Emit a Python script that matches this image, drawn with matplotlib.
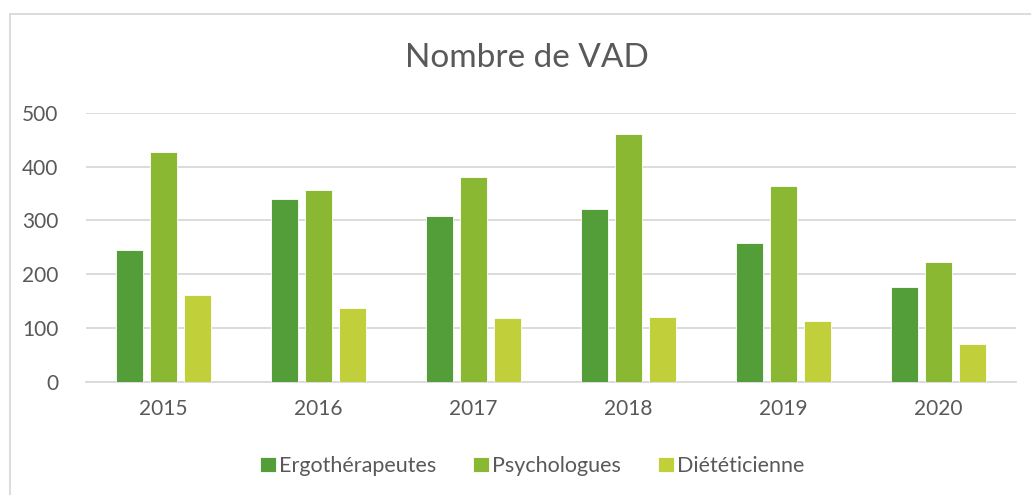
import numpy as np
import matplotlib.pyplot as plt
from matplotlib.patches import Rectangle

plt.rcParams['font.family'] = ['Lato', 'DejaVu Sans']

# Données
annees = ['2015', '2016', '2017', '2018', '2019', '2020']
ergo = [245, 340, 309, 321, 258, 176]
psycho = [427, 356, 380, 460, 364, 222]
dietet = [161, 137, 118, 121, 114, 71]
series = ['Ergothérapeutes', 'Psychologues', 'Diététicienne']
couleurs = ['#549E39', '#8AB833', '#C0CF3A']

gris = '#595959'

fig = plt.figure(figsize=(10.31, 4.95), dpi=100)
ax = fig.add_axes([0.0834, 0.2283, 0.9021, 0.544])

x = np.arange(len(annees))
largeur = 0.175
pas = 0.221
for i, (vals, nom, c) in enumerate(zip([ergo, psycho, dietet], series, couleurs)):
    ax.bar(x + (i - 1) * pas, vals, largeur, color=c, label=nom,
           edgecolor='white', linewidth=0.6, zorder=3)

ax.set_xlim(-0.5, len(annees) - 0.5)
ax.set_ylim(0, 500)
ax.set_yticks(range(0, 501, 100))
ax.set_xticks(x)
ax.set_xticklabels(annees)
ax.yaxis.grid(True, color='#D9D9D9', linewidth=1.3, zorder=0)
for s in ['top', 'right', 'left']:
    ax.spines[s].set_visible(False)
ax.spines['bottom'].set_color('#D9D9D9')
ax.spines['bottom'].set_linewidth(1.3)
ax.tick_params(axis='both', length=0, colors=gris, labelsize=15)
ax.tick_params(axis='y', pad=20)
ax.tick_params(axis='x', pad=12)

fig.text(0.511, 0.883, 'Nombre de VAD', ha='center', va='center',
         fontsize=24, color=gris)

ax.legend(loc='center', bbox_to_anchor=(532 / 1031, 1 - 466 / 495), bbox_transform=fig.transFigure,
          ncol=3, frameon=False, fontsize=15.5, labelcolor=gris,
          handlelength=0.75, handleheight=0.75, handletextpad=0.15, columnspacing=1.7)

# cadre du graphique
fig.patches.append(Rectangle((10 / 1031, -0.1), 1.2, 0.1 + 1 - 14 / 495,
                             transform=fig.transFigure, fill=False,
                             edgecolor='#D9D9D9', linewidth=1.3))

fig.savefig('out.png', dpi=100)
